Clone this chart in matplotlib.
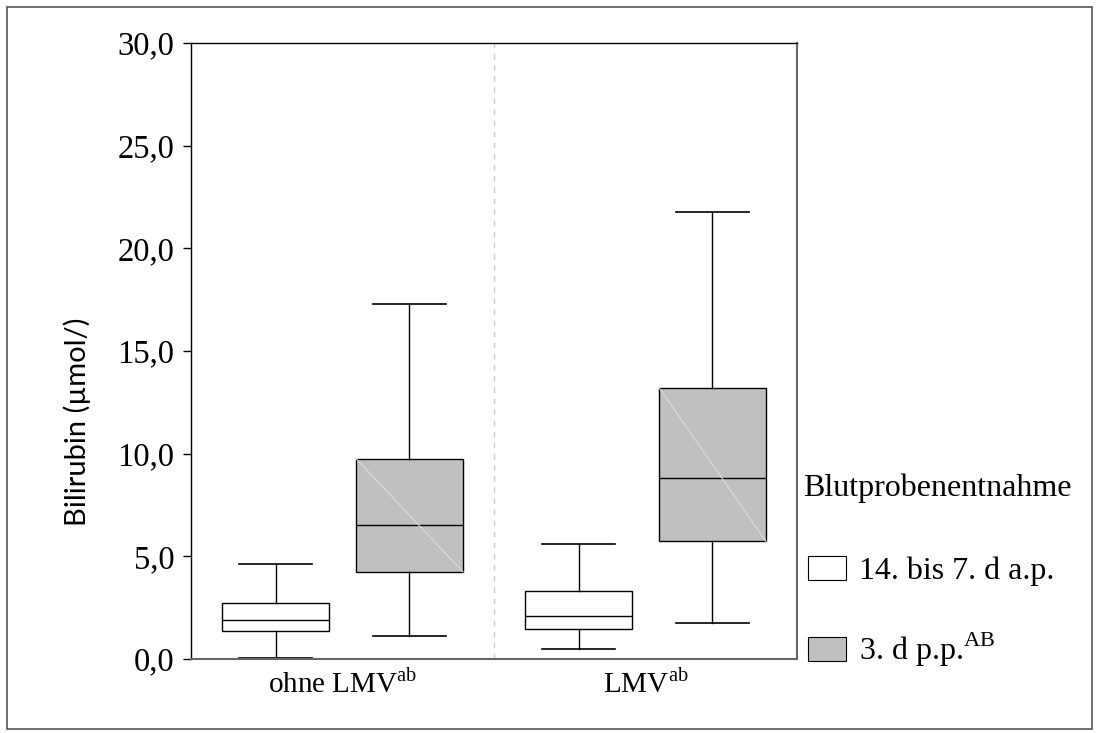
import matplotlib
matplotlib.use("Agg")
import matplotlib.pyplot as plt
from matplotlib.patches import Patch, Rectangle

# box statistics (µmol/l)
groups = ["ohne LMV$^{\\mathrm{ab}}$", "LMV$^{\\mathrm{ab}}$"]
series = ["14. bis 7. d a.p.", "3. d p.p.$^{\\mathrm{AB}}$"]
whislo = [[0.05, 0.49], [1.14, 1.74]]
q1 = [[1.36, 1.45], [4.24, 5.73]]
med = [[1.88, 2.09], [6.51, 8.82]]
q3 = [[2.71, 3.30], [9.76, 13.22]]
whishi = [[4.61, 5.59], [17.28, 21.77]]
yticks = [0, 5, 10, 15, 20, 25, 30]

plt.rcParams["font.family"] = ["Liberation Serif", "DejaVu Serif"]
plt.rcParams["mathtext.fontset"] = "custom"
plt.rcParams["mathtext.rm"] = "Liberation Serif"

fig = plt.figure(figsize=(10.96, 7.33), dpi=100)
ax = fig.add_axes([191 / 1096, 74 / 733, 606 / 1096, 616 / 733])

# outer frame
fig.patches.append(Rectangle((7 / 1096, 4 / 733), 1085 / 1096, 722 / 733,
                             transform=fig.transFigure, fill=False,
                             edgecolor="#555555", linewidth=1.2))

colors = ["white", "#c0c0c0"]
offset = 0.221
width = 0.353
for s in range(2):
    stats = []
    pos = []
    for g in range(2):
        stats.append(dict(whislo=whislo[s][g], q1=q1[s][g], med=med[s][g],
                          q3=q3[s][g], whishi=whishi[s][g], fliers=[]))
        pos.append(g + 1 + (offset if s else -offset))
    ax.bxp(stats, positions=pos, widths=width, capwidths=width * 0.69,
           patch_artist=True, showfliers=False,
           boxprops=dict(facecolor=colors[s], edgecolor="black", linewidth=1.0),
           medianprops=dict(color="black", linewidth=1.0),
           whiskerprops=dict(color="black", linewidth=1.0),
           capprops=dict(color="black", linewidth=1.2))
    if s == 1:
        # faint diagonal artefact in grey boxes
        for g in range(2):
            ax.plot([pos[g] - width / 2, pos[g] + width / 2], [q3[s][g], q1[s][g]],
                    color="#dcdcdc", linewidth=0.8, zorder=3)

ax.axvline(1.5, color="#cccccc", linestyle=(0, (4, 4)), linewidth=1.0, zorder=0)

ax.set_xlim(0.5, 2.5)
ax.set_ylim(0, 30)
ax.set_yticks(yticks)
ax.set_yticklabels([f"{v:.1f}".replace(".", ",") for v in yticks], fontsize=23.5)
ax.set_xticks([1, 2])
ax.set_xticklabels(groups, fontsize=21)
ax.tick_params(axis="x", length=0, pad=8)
ax.tick_params(axis="y", length=6, width=1.0, pad=6, direction="out")

for side in ["left", "top"]:
    ax.spines[side].set_color("black")
    ax.spines[side].set_linewidth(1.0)
for side in ["bottom", "right"]:
    ax.spines[side].set_color("#666666")
    ax.spines[side].set_linewidth(1.5)

fig.text(77 / 1096, 1 - 422 / 733, "Bilirubin (µmol/)", rotation=90,
         ha="center", va="center", fontsize=21, family=["Lato", "DejaVu Sans"])

# legend title drawn on its own, entries below
fig.text(803 / 1096, 1 - 488 / 733, "Blutprobenentnahme", ha="left", va="center",
         fontsize=23)
handles = [Patch(facecolor=colors[i], edgecolor="black", linewidth=0.8) for i in range(2)]
leg = fig.legend(handles, series, loc="upper left",
                 bbox_to_anchor=(795 / 1096, 1 - 543 / 733), frameon=False,
                 fontsize=23, handlelength=1.2, handleheight=0.8,
                 labelspacing=1.4, handletextpad=0.4, borderaxespad=0)

fig.savefig("out.png", dpi=100)
